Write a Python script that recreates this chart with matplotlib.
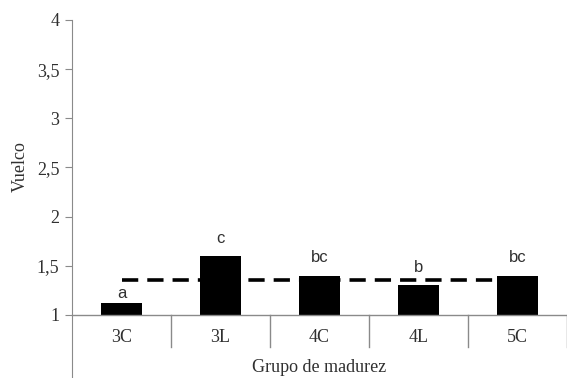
import matplotlib.pyplot as plt
import numpy as np

# Data
groups = ["3C", "3L", "4C", "4L", "5C"]
vuelco = [1.12, 1.60, 1.40, 1.30, 1.40]
letters = ["a", "c", "bc", "b", "bc"]
letter_y = [1.22, 1.78, 1.58, 1.48, 1.58]
mean_line = 1.36

serif = "Liberation Serif"
grey = "#8a8a8a"
txt = "#303030"

fig = plt.figure(figsize=(5.67, 3.78), dpi=100)
ax = fig.add_axes([72 / 567, 0.0, 1 - 72 / 567, (378 - 20) / 378])

x = np.arange(len(groups))
ymin = 1 - (378 - 315) / 98.3

# mean dashed line behind bars
ax.plot([x[0], x[-1]], [mean_line, mean_line], color="black", lw=2.6,
        ls=(0, (4.5, 2.5)), zorder=2)
ax.bar(x, np.array(vuelco) - 1, bottom=1, width=0.41, color="black", zorder=3)

for xi, lab, ly in zip(x, letters, letter_y):
    ax.text(xi, ly, lab, ha="center", va="center", fontsize=12,
            family="Liberation Sans", color=txt)

# category axis drawn at y = 1
ax.plot([-0.5, len(groups) - 0.5], [1, 1], color=grey, lw=1, zorder=4,
        clip_on=False)
for b in np.arange(len(groups)) + 0.5:
    ax.plot([b, b], [1, 1 - 32 / 98.3], color=grey, lw=1, clip_on=False)
for xi, g in zip(x, groups):
    ax.text(xi, 1 - 23 / 98.3, g, ha="center", va="center", fontsize=13,
            family=serif, color=txt)
ax.text((len(groups) - 1) / 2, 1 - 53 / 98.3, "Grupo de madurez", ha="center",
        va="center", fontsize=13, family=serif, color=txt)

ax.set_xlim(-0.5, len(groups) - 0.5)
ax.set_ylim(ymin, 4)
ax.set_yticks(np.arange(1, 4.01, 0.5))
ax.set_yticklabels(["1", "1,5", "2", "2,5", "3", "3,5", "4"], family=serif,
                   fontsize=13, color=txt)
ax.tick_params(axis="y", length=5, color=grey, pad=4)
ax.set_xticks([])
for s in ["top", "right", "bottom"]:
    ax.spines[s].set_visible(False)
ax.spines["left"].set_color(grey)

fig.text(20 / 567, 1 - 167 / 378, "Vuelco", rotation=90, ha="center",
         va="center", fontsize=13, family=serif, color=txt)

fig.savefig("out.png", dpi=100)
